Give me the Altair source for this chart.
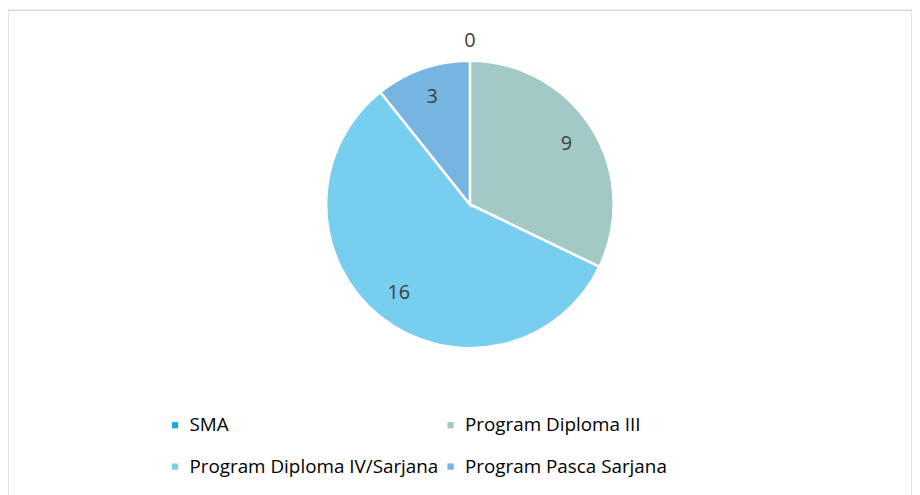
import altair as alt
import pandas as pd

categories = ["SMA", "Program Diploma III", "Program Diploma IV/Sarjana", "Program Pasca Sarjana"]
values = [0, 9, 16, 3]
colors = ["#1BA8E0", "#A3C9C7", "#77CEEF", "#76B4E2"]
label_radius = [165, 115, 115, 115]

df = pd.DataFrame({
    "cat": categories,
    "val": values,
    "idx": list(range(len(categories))),
    "lr": label_radius,
    "lbl": [str(v) for v in values],
})

FONT = "Open Sans"
CX, CY = 466, 196

base = alt.Chart(df).encode(
    theta=alt.Theta("val:Q", stack=True),
    order=alt.Order("idx:Q"),
)

arcs = base.mark_arc(outerRadius=145, stroke="white", strokeWidth=2.5).encode(
    x=alt.value(CX),
    y=alt.value(CY),
    color=alt.Color(
        "cat:N",
        scale=alt.Scale(domain=categories, range=colors),
        sort=categories,
        legend=alt.Legend(
            title=None,
            orient="none",
            direction="horizontal",
            legendX=159,
            legendY=409,
            columns=2,
            columnPadding=2,
            rowPadding=22,
            symbolType="square",
            symbolSize=40,
            symbolStrokeWidth=0,
            labelFont=FONT,
            labelFontSize=19,
            labelColor="#000000",
            labelOffset=5,
            labelLimit=400,
        ),
    ),
)

labels = base.mark_text(font=FONT, fontSize=20, color="#404040").encode(
    x=alt.value(CX),
    y=alt.value(CY),
    radius=alt.Radius("lr:Q", scale=None),
    text="lbl:N",
)

chart = (
    alt.layer(arcs, labels)
    .properties(width=912, height=490, padding=0)
    .configure_view(stroke="#D9D9D9", strokeWidth=1.5)
)

chart.save("out.html", embed_options={"renderer": "svg", "actions": False})
